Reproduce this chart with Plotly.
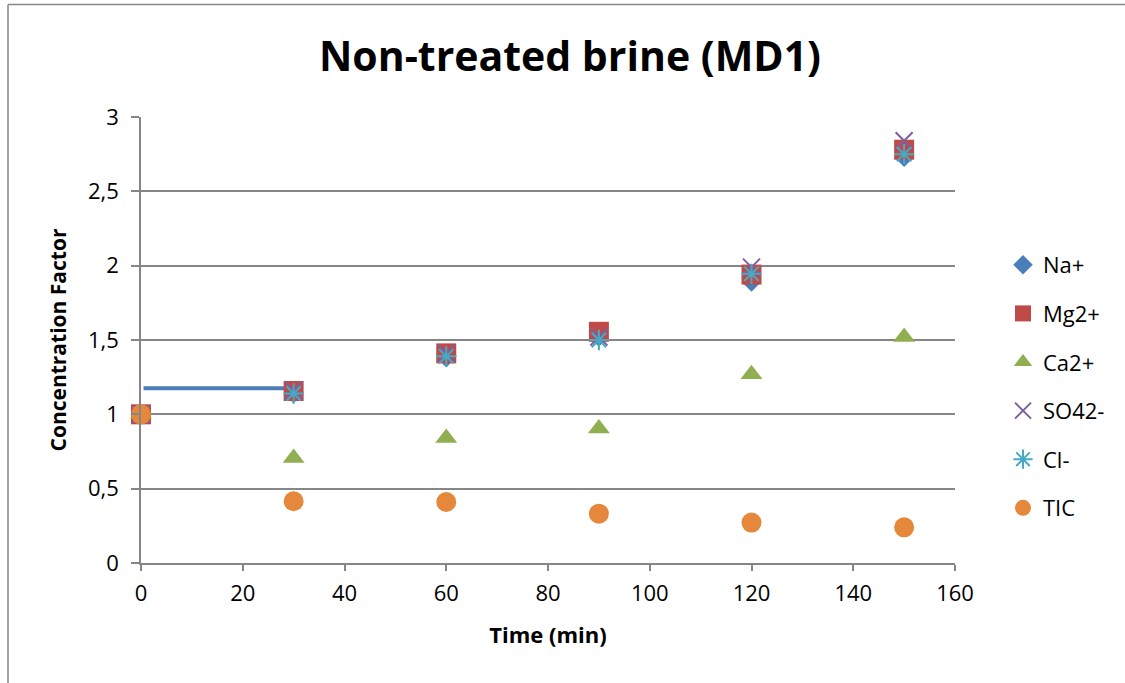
import plotly.graph_objects as go

time_min = [0, 30, 60, 90, 120, 150]
na = [1.0, 1.14, 1.38, 1.52, 1.89, 2.73]
mg = [1.0, 1.157, 1.41, 1.555, 1.94, 2.78]
ca = [1.0, 0.706, 0.84, 0.905, 1.27, 1.52]
so4 = [1.0, 1.16, 1.41, 1.52, 1.99, 2.84]
cl = [1.0, 1.14, 1.39, 1.5, 1.945, 2.75]
tic = [1.0, 0.415, 0.41, 0.332, 0.272, 0.24]

line_x = [0.5, 29.5]
line_y = [1.175, 1.175]

x_ticks = [0, 20, 40, 60, 80, 100, 120, 140, 160]
y_ticks = [0, 0.5, 1, 1.5, 2, 2.5, 3]

FONT = "Open Sans"
W, H = 1125, 683
ML, MR, MT, MB = 141, 170, 117, 120
PW, PH = W - ML - MR, H - MT - MB

fig = go.Figure()

series = [
    ("Na+", na, dict(symbol="diamond", size=15, color="#4A7EBB")),
    ("Mg2+", mg, dict(symbol="square", size=20, color="#BE4B48")),
    ("Ca2+", ca, dict(symbol="triangle-up", size=19, color="#8FAF50")),
    ("SO42-", so4, dict(symbol="x-thin-open", size=17, color="#7D5FA0", line=dict(width=2, color="#7D5FA0"))),
    ("Cl-", cl, dict(symbol="asterisk-open", size=17, color="#46AAC5", line=dict(width=2, color="#46AAC5"))),
    ("TIC", tic, dict(symbol="circle", size=20, color="#E6883C")),
]

fig.add_trace(go.Scatter(x=line_x, y=line_y, mode="lines",
                         line=dict(color="#4A7EBB", width=4), showlegend=False,
                         hoverinfo="skip"))

for i, (name, vals, marker) in enumerate(series):
    fig.add_trace(go.Scatter(x=time_min, y=vals, mode="markers", name=name,
                             marker=marker, legendgroup=f"g{i}", cliponaxis=False))

def px_to_paper_x(px):
    return (px - ML) / PW

def px_to_paper_y(py):
    return (H - MB - py) / PH

border_color = "#868686"
fig.add_shape(type="line", xref="paper", yref="paper",
              x0=px_to_paper_x(8), x1=px_to_paper_x(1130),
              y0=px_to_paper_y(4.5), y1=px_to_paper_y(4.5),
              line=dict(color=border_color, width=1.5))
fig.add_shape(type="line", xref="paper", yref="paper",
              x0=px_to_paper_x(8), x1=px_to_paper_x(8),
              y0=px_to_paper_y(4.5), y1=px_to_paper_y(690),
              line=dict(color=border_color, width=1.5))

fig.update_layout(
    width=W, height=H,
    margin=dict(l=ML, r=MR, t=MT, b=MB),
    paper_bgcolor="white", plot_bgcolor="white",
    separators=",.",
    font=dict(family=FONT, color="black", size=22),
    title=dict(text="<b>Non-treated brine (MD1)</b>", x=570 / W, xanchor="center",
               y=1 - 57 / H, yanchor="middle", font=dict(size=41, family=FONT)),
    showlegend=True,
    legend=dict(x=px_to_paper_x(1003), xanchor="left", y=px_to_paper_y(244),
                yanchor="top", font=dict(size=22, family=FONT),
                tracegroupgap=17, bgcolor="rgba(0,0,0,0)", itemsizing="trace"),
    xaxis=dict(range=[0, 160], tickvals=x_ticks, showgrid=False, zeroline=False,
               showline=True, linecolor=border_color, linewidth=1.5,
               ticks="outside", ticklen=6, tickcolor=border_color, tickwidth=1.5,
               ticklabelstandoff=4,
               tickfont=dict(size=22), title=dict(text="<b>Time (min)</b>",
               font=dict(size=22), standoff=21)),
    yaxis=dict(range=[0, 3], tickvals=y_ticks, showgrid=True, gridcolor=border_color,
               gridwidth=1.5, zeroline=False, showline=True, linecolor=border_color,
               linewidth=1.5, ticks="outside", ticklen=8, tickcolor=border_color,
               tickwidth=1.5, tickfont=dict(size=22), ticklabelstandoff=8,
               title=dict(text="<b>Concentration Factor</b>", font=dict(size=21),
                          standoff=16)),
)

fig.write_html("out.html")
